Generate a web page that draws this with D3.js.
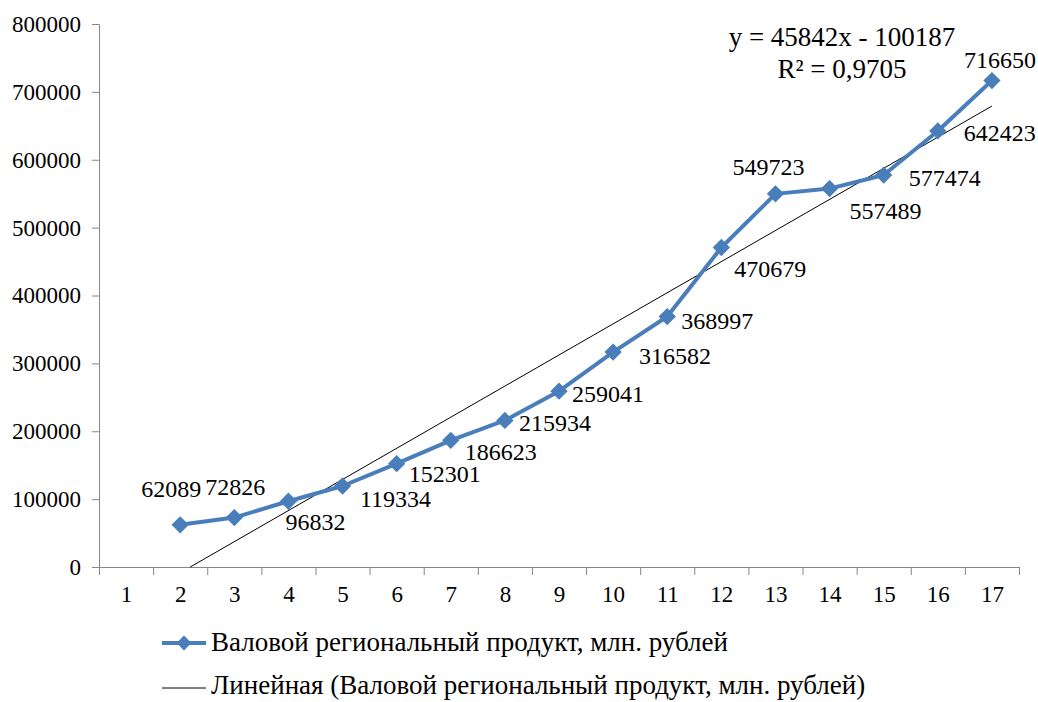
<!DOCTYPE html>
<html>
<head>
<meta charset="utf-8">
<script src="https://cdn.jsdelivr.net/npm/d3@7"></script>
</head>
<body style="margin:0">
<div id="chart"></div>
<script>
// data: category numbers and gross regional product values (cat 1 has no value)
const categories = d3.range(1, 18);
const years = [2, 3, 4, 5, 6, 7, 8, 9, 10, 11, 12, 13, 14, 15, 16, 17];
const grp = [62089, 72826, 96832, 119334, 152301, 186623, 215934, 259041,
             316582, 368997, 470679, 549723, 557489, 577474, 642423, 716650];
const yTicks = [0, 100000, 200000, 300000, 400000, 500000, 600000, 700000, 800000];
// trend line coefficients, as printed on the chart
const slope = 45842, intercept = -100187, r2 = "0,9705";
const seriesName = "Валовой региональный продукт, млн. рублей";
const trendName = "Линейная (Валовой региональный продукт, млн. рублей)";

// label placement (dx from point to text centre, dy to baseline)
const labelOffsets = [[-9,-28],[1,-23],[27,29],[53,21],[48,18],[50,20],[50,11],[49,11],
                      [62,12],[50,12],[49,29],[-7,-19],[56,30],[61,11],[62,10],[8,-13]];

const W = 1038, H = 702;
const plot = {left: 99, right: 1019, top: 24, bottom: 567};
const blue = "#4a7ebb";
const serifFont = "Liberation Serif";

const svg = d3.select("#chart").append("svg")
    .attr("width", W).attr("height", H)
    .attr("font-family", serifFont);

// x: category n sits at centre of its band
const x = d3.scaleLinear().domain([0.5, 17.5]).range([plot.left, plot.right]);
const y = d3.scaleLinear().domain([0, 800000]).range([plot.bottom, plot.top]);

// y axis
svg.append("g")
    .attr("transform", `translate(${plot.left},0)`)
    .call(d3.axisLeft(y).tickValues(yTicks).tickSize(7).tickPadding(11).tickFormat(d3.format("d")))
    .attr("font-family", serifFont)
    .call(g => g.selectAll("path, line").attr("stroke", "#868686"))
    .call(g => g.selectAll("text").attr("fill", "#000").style("font-size", "23px"));

// x axis line + boundary ticks
svg.append("g")
    .attr("transform", `translate(0,${plot.bottom})`)
    .call(d3.axisBottom(x).tickValues(d3.range(0.5, 18.5, 1)).tickSize(8).tickSizeOuter(0).tickFormat(""))
    .call(g => g.selectAll("path, line").attr("stroke", "#868686"));

// x labels in band centres
svg.append("g")
    .attr("transform", `translate(0,${plot.bottom})`)
    .call(d3.axisBottom(x).tickValues(categories).tickSize(0).tickPadding(19).tickFormat(d3.format("d")))
    .attr("font-family", serifFont)
    .call(g => g.select(".domain").remove())
    .call(g => g.selectAll("text").attr("fill", "#000").style("font-size", "23px"));

// trend line, starting where it crosses zero
const x0 = -intercept / slope;
const trendLine = d3.line()
    .x(d => x(d))
    .y(d => y(slope * d + intercept));
svg.append("path")
    .datum([x0, 17])
    .attr("d", trendLine)
    .attr("fill", "none")
    .attr("stroke", "#000")
    .attr("stroke-width", 1);

// series line
const pts = years.map((c, i) => ({c: c, v: grp[i], off: labelOffsets[i]}));
const valueline = d3.line()
    .x(d => x(d.c))
    .y(d => y(d.v));
svg.append("path")
    .datum(pts)
    .attr("d", valueline)
    .attr("fill", "none")
    .attr("stroke", blue)
    .attr("stroke-width", 4)
    .attr("stroke-linejoin", "round");

// diamond markers
const diamond = d3.symbol().type(d3.symbolSquare).size(150);
svg.selectAll(".marker")
    .data(pts)
  .enter().append("path")
    .attr("class", "marker")
    .attr("d", diamond)
    .attr("transform", d => `translate(${x(d.c)},${y(d.v)}) rotate(45)`)
    .attr("fill", blue);

// data labels
svg.selectAll(".lbl")
    .data(pts)
  .enter().append("text")
    .attr("class", "lbl")
    .attr("x", d => x(d.c) + d.off[0])
    .attr("y", d => y(d.v) + d.off[1])
    .attr("text-anchor", "middle")
    .style("font-family", serifFont)
    .style("font-size", "24px")
    .text(d => d.v);

// equation
svg.append("text")
    .attr("x", 842).attr("y", 46)
    .attr("text-anchor", "middle")
    .style("font-family", serifFont)
    .style("font-size", "27px")
    .text(`y = ${slope}x - ${-intercept}`);
svg.append("text")
    .attr("x", 842).attr("y", 78)
    .attr("text-anchor", "middle")
    .style("font-family", serifFont)
    .style("font-size", "27px")
    .text(`R² = ${r2}`);

// legend
const lg = svg.append("g");
lg.append("line")
    .attr("x1", 162).attr("x2", 206).attr("y1", 643).attr("y2", 643)
    .attr("stroke", blue).attr("stroke-width", 4);
lg.append("path")
    .attr("d", d3.symbol().type(d3.symbolSquare).size(110))
    .attr("transform", "translate(184,643) rotate(45)")
    .attr("fill", blue);
lg.append("text")
    .attr("x", 211).attr("y", 651)
    .style("font-family", serifFont)
    .style("font-size", "27px")
    .text(seriesName);
lg.append("line")
    .attr("x1", 162).attr("x2", 206).attr("y1", 688).attr("y2", 688)
    .attr("stroke", "#000").attr("stroke-width", 1);
lg.append("text")
    .attr("x", 211).attr("y", 694)
    .style("font-family", serifFont)
    .style("font-size", "27px")
    .text(trendName);
</script>
</body>
</html>
